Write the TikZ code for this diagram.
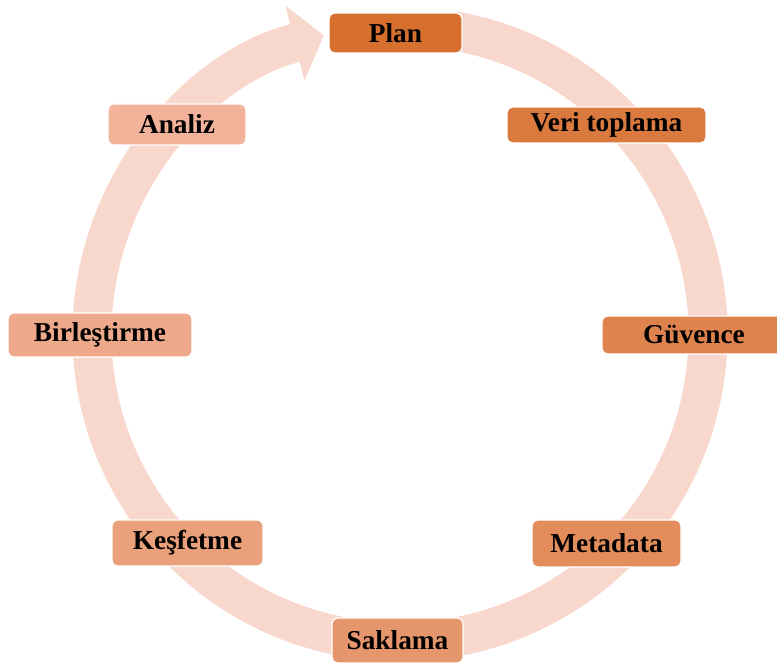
\documentclass[tikz,border=0pt]{standalone}
\usepackage{fontspec}
\setmainfont{Liberation Serif}
\usetikzlibrary{arrows.meta}
\usepackage{xcolor}

\definecolor{ringpink}{HTML}{F8D8CD}
\definecolor{stepdark}{HTML}{D7702F}
\definecolor{steplight}{HTML}{F2B39A}

\begin{document}
\begin{tikzpicture}[
  x=0.75pt, y=0.75pt,
  phase/.style={
    draw=white,
    line width=1pt,
    rounded corners=4pt,
    inner xsep=0pt,
    align=center,
    font=\bfseries\fontsize{20.5}{24}\selectfont
  },
  ring/.style={ringpink, line width=29.25pt, -{Triangle[length=22.5pt, width=57pt]}}
]
\useasboundingbox (0,0) rectangle (777,666);

% cycle band behind the boxes
\coordinate (hub) at (400,332);
\draw[ring] (hub) ++(80:308) arc[start angle=80, end angle=-255.7, radius=308];

% the eight phases, darkest first
\foreach \i/\px/\py/\w/\h/\name/\txt in {
  0/395.5/633/99.75/30/plan/Plan,
  1/606.5/541/149.25/27/veri/Veri toplama,
  2/694/331/138/28.5/guvence/Güvence,
  3/606.5/122.5/111.75/35.25/meta/Metadata,
  4/397.5/25.5/98.25/33.75/saklama/Saklama,
  5/187.5/123/113.25/34.5/kesif/Keşfetme,
  6/100/331/138/33/birles/Birleştirme,
  7/177/541.5/103.5/30.75/analiz/Analiz}{
  \pgfmathsetmacro{\shade}{100-\i*100/7}
  \node[phase, fill=stepdark!\shade!steplight,
        minimum width=\w pt, minimum height=\h pt] (\name) at (\px,\py) {\txt};
}

\end{tikzpicture}
\end{document}
